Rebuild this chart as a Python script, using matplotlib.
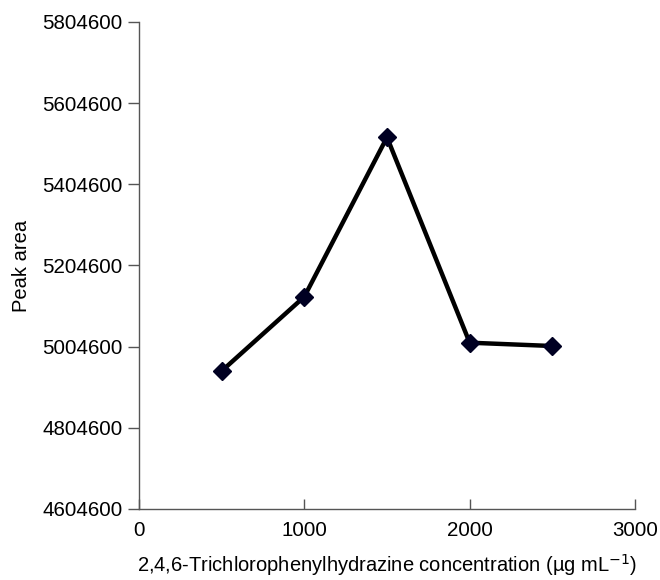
import matplotlib
matplotlib.use("Agg")
import matplotlib.pyplot as plt

concentration = [500, 1000, 1500, 2000, 2500]
peak_area = [4944600, 5127700, 5520500, 5014400, 5006200]
x_ticks = [0, 1000, 2000, 3000]
y_ticks = [4604600, 4804600, 5004600, 5204600, 5404600, 5604600, 5804600]

plt.rcParams['font.family'] = ['Liberation Sans', 'DejaVu Sans']

fig = plt.figure(figsize=(6.6, 5.8), dpi=100)
ax = fig.add_axes([139/660, 1-509/580, (635-139)/660, (509-22)/580])

ax.plot(concentration, peak_area, color='black', linewidth=3.2, marker='D',
        markersize=9, markerfacecolor='#000022', markeredgecolor='#000022', zorder=3)

ax.set_xlim(0, 3000)
ax.set_ylim(4604600, 5804600)
ax.set_xticks(x_ticks)
ax.set_yticks(y_ticks)
ax.set_xticklabels([str(v) for v in x_ticks])
ax.set_yticklabels([str(v) for v in y_ticks])

for s in ['top', 'right']:
    ax.spines[s].set_visible(False)
for s in ['left', 'bottom']:
    ax.spines[s].set_color('#555555')
    ax.spines[s].set_linewidth(1.0)

ax.tick_params(axis='y', direction='out', length=8, width=1, color='#555555',
               labelsize=14.8, pad=4)
ax.tick_params(axis='x', direction='in', length=7, width=1, color='#555555',
               labelsize=14.8, pad=9)

ax.set_ylabel('Peak area', fontsize=14.5, labelpad=8)
ax.set_xlabel(r'2,4,6-Trichlorophenylhydrazine concentration (µg mL$^{-1}$)',
              fontsize=14.5, labelpad=8)

fig.savefig('out.png', dpi=100)
